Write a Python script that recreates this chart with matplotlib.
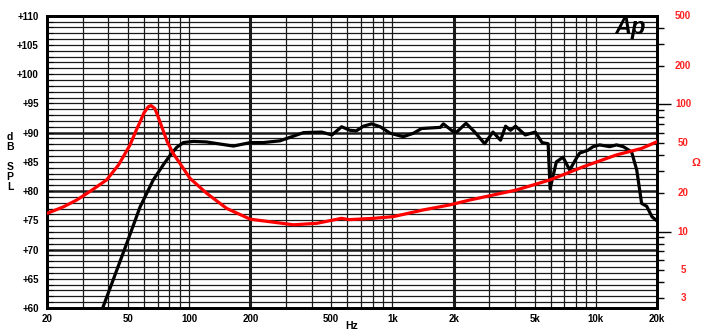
import matplotlib
matplotlib.use('Agg')
import matplotlib.pyplot as plt
import matplotlib.transforms as mtransforms
from matplotlib.ticker import FixedLocator, NullFormatter, NullLocator

plt.rcParams['font.family'] = ['Liberation Sans', 'DejaVu Sans']
plt.rcParams['font.weight'] = 'bold'

# ---- data ----
spl_freq = [35, 37.2, 44.1, 50, 57.4, 66.6, 75, 80.6, 87, 93.7, 105, 122, 165, 200, 232, 280,
            365, 448, 504, 562, 618, 664, 720, 790, 871, 974, 1130, 1270, 1390, 1720, 1780,
            2000, 2070, 2300, 2540, 2840, 3120, 3400, 3600, 3810, 4030, 4500, 5040, 5440,
            5830, 5960, 6400, 6900, 7440, 8020, 8330, 9160, 9700, 10450, 11700, 12650, 13650,
            15000, 15900, 16800, 17800, 18900, 20000]
spl_db = [57.5, 59.6, 66.5, 71.6, 77.3, 81.9, 84.6, 86.1, 87.5, 88.3, 88.5, 88.4, 87.7, 88.3,
          88.3, 88.6, 90.0, 90.1, 89.6, 91.0, 90.4, 90.3, 91.1, 91.5, 91.0, 89.9, 89.3, 89.9,
          90.7, 90.9, 91.5, 90.1, 90.1, 91.6, 90.1, 88.1, 90.1, 88.7, 91.1, 90.4, 91.1, 89.6,
          90.1, 88.3, 88.1, 80.4, 85.0, 85.8, 83.6, 85.6, 86.5, 87.0, 87.6, 87.9, 87.6, 87.9,
          87.6, 86.7, 83.6, 77.9, 77.4, 75.6, 74.9]

imp_freq = [20, 24, 28, 33, 39.3, 45, 51.2, 55, 57.4, 60, 63, 65, 67.8, 70, 74.6, 78, 83.6,
            90, 101, 122, 153, 200, 326, 424, 562, 612, 805, 1010, 1420, 1914, 2400, 4060,
            5960, 8700, 12650, 16800, 20000]
imp_ohm = [13.9, 15.6, 17.7, 21.0, 25.5, 33.5, 48, 63, 73, 86, 96, 98, 93, 82, 62, 51, 41,
           34.5, 26.2, 20.0, 15.2, 12.5, 11.3, 11.6, 12.7, 12.4, 12.7, 13.1, 14.8, 16.2, 17.7,
           21.2, 25.5, 32.4, 40.1, 45.1, 50.9]

x_tick_values = [20, 50, 100, 200, 500, 1000, 2000, 5000, 10000, 20000]
x_tick_labels = ['20', '50', '100', '200', '500', '1k', '2k', '5k', '10k', '20k']
db_tick_values = [60, 65, 70, 75, 80, 85, 90, 95, 100, 105, 110]
db_tick_labels = ['+60', '+65', '+70', '+75', '+80', '+85', '+90', '+95', '+100', '+105', '+110']
ohm_label_values = [3, 5, 10, 20, 50, 100, 200, 500]
ohm_label_texts = ['3', '5', '10', '20', '50', '100', '200', '500']

W, H = 703, 333
fig = plt.figure(figsize=(W / 100, H / 100), dpi=100)
ax = fig.add_axes([47 / W, 25 / H, 610 / W, 292.3 / H])
ax.set_xscale('log')
ax.set_xlim(20, 20000)
ax.set_ylim(60, 110)

# horizontal grid, 1 dB
for v in range(61, 110):
    lw = 1.8 if v in (70, 80, 90) else 0.9
    ax.axhline(v, color='#1a1a1a', lw=lw, zorder=1)
# vertical grid
for dec in (10, 100, 1000, 10000):
    for m in range(1, 10):
        f = m * dec
        if 20 < f < 20000:
            lw = 2.2 if f in (200, 2000) else 0.9
            ax.axvline(f, color='#1a1a1a', lw=lw, zorder=1)

ax.plot(spl_freq, spl_db, color='black', lw=2.3, zorder=4, solid_joinstyle='round')

ax.xaxis.set_major_locator(FixedLocator(x_tick_values))
ax.set_xticklabels(x_tick_labels)
ax.xaxis.set_minor_locator(NullLocator())
ax.tick_params(axis='x', which='major', length=0, pad=4, labelsize=7)

ax.yaxis.set_major_locator(FixedLocator(db_tick_values))
ax.set_yticklabels(db_tick_labels)
ax.yaxis.set_minor_locator(FixedLocator(list(range(60, 111))))
ax.tick_params(axis='y', which='both', direction='in', length=4, width=0.8, pad=6, labelsize=7)

for s in ax.spines.values():
    s.set_linewidth(2)

ax2 = ax.twinx()
ax2.set_yscale('log')
ax2.set_ylim(2.5, 500)
ax2.plot(imp_freq, imp_ohm, color='#ff0000', lw=2.3, zorder=5, solid_joinstyle='round')
ax2.yaxis.set_major_locator(FixedLocator([10, 100]))
ax2.yaxis.set_major_formatter(NullFormatter())
minor_ohm = [3, 4, 5, 6, 7, 8, 9, 20, 30, 40, 50, 60, 70, 80, 90, 200, 300, 400]
ax2.yaxis.set_minor_locator(FixedLocator(minor_ohm))
ax2.yaxis.set_minor_formatter(NullFormatter())
ax2.tick_params(axis='y', which='major', direction='out', length=10, width=1, color='black')
ax2.tick_params(axis='y', which='minor', direction='out', length=5, width=1, color='black')
for s in ax2.spines.values():
    s.set_linewidth(2)

trans = mtransforms.blended_transform_factory(ax2.transAxes, ax2.transData)
for v, t in zip(ohm_label_values, ohm_label_texts):
    ax2.text(1 + 26 / 610, v, t, transform=trans, ha='center', va='center',
             color='#ff2020', fontsize=7, fontweight='bold')

fig.text(352 / W, 1 - 326 / H, 'Hz', ha='center', va='center', fontsize=7.5, fontweight='bold')
fig.text(10 / W, 1 - 162 / H, 'd\nB\n\nS\nP\nL', ha='center', va='center', fontsize=7.5,
         fontweight='bold', linespacing=1.0)
fig.text(696 / W, 1 - 163 / H, 'Ω', ha='center', va='center', fontsize=8,
         fontweight='bold', color='#ff2020')
fig.text(614 / W, 1 - 34 / H, 'Ap', ha='left', va='baseline', fontsize=17,
         fontweight='heavy', fontstyle='italic', color='black')

fig.savefig('out.png', dpi=100)
